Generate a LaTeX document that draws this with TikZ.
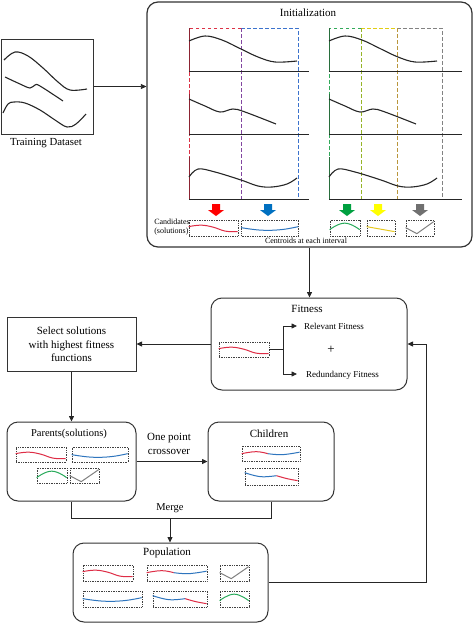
\documentclass[tikz,border=0pt]{standalone}
\usepackage{fontspec}
\setmainfont{Liberation Serif}
\usetikzlibrary{arrows.meta}
\definecolor{cred}{RGB}{222,45,70}
\definecolor{cblue}{RGB}{46,117,190}
\definecolor{cgreen}{RGB}{40,170,90}
\definecolor{cyellow}{RGB}{230,200,30}
\definecolor{cgray}{RGB}{128,128,128}
\definecolor{ared}{RGB}{255,0,0}
\definecolor{ablue}{RGB}{0,112,192}
\definecolor{agreen}{RGB}{0,160,64}
\definecolor{ayellow}{RGB}{255,255,0}
\definecolor{agray}{RGB}{112,112,112}
\definecolor{dred}{RGB}{220,50,70}
\definecolor{dblue}{RGB}{60,115,205}
\definecolor{dpurple}{RGB}{130,70,160}
\definecolor{dgreen}{RGB}{50,170,90}
\definecolor{dyellow}{RGB}{225,205,20}
\definecolor{dygreen}{RGB}{150,180,40}
\definecolor{dolive}{RGB}{185,150,60}
\definecolor{dgray}{RGB}{130,130,130}
\definecolor{axred}{RGB}{140,35,50}
\definecolor{axgreen}{RGB}{40,110,60}
\newcommand\incurve[3]{\begin{scope}[shift={(#1.north west)},xscale=#2]#3\end{scope}}
\newcommand\cRed{\draw[cred,line width=1pt] plot[smooth,tension=0.7] coordinates {(0,7)(0.25,5.5)(0.5,7.5)(0.75,11.5)(1,12)};}
\newcommand\cBlue{\draw[cblue,line width=1pt] plot[smooth,tension=0.7] coordinates {(0,8)(0.35,10.5)(0.7,10)(1,7)};}
\newcommand\cGreen{\draw[cgreen,line width=1pt] plot[smooth,tension=0.8] coordinates {(0,10)(0.5,3.5)(1,10)};}
\newcommand\cYellow{\draw[cyellow,line width=1pt] (0,7) -- (1,12);}
\newcommand\cGray{\draw[cgray,line width=1pt] (0,8) -- (0.4,14) -- (1,2);}
\newcommand\cRedBlue{\draw[cred,line width=1pt] plot[smooth,tension=0.7] coordinates {(0,8)(0.25,6)(0.45,8)};
 \draw[cblue,line width=1pt] plot[smooth,tension=0.7] coordinates {(0.45,8)(0.7,9)(1,6.5)};}
\newcommand\cBlueRed{\draw[cblue,line width=1pt] plot[smooth,tension=0.7] coordinates {(0,5)(0.3,9)(0.6,8)};
 \draw[cred,line width=1pt] plot[smooth,tension=0.7] coordinates {(0.6,8)(0.8,11)(1,13)};}
\newcommand\blkarr[3]{\fill[#1] (#2-4,#3) -- (#2+4,#3) -- (#2+4,#3+6) -- (#2+8,#3+6) -- (#2,#3+12) -- (#2-8,#3+6) -- (#2-4,#3+6) -- cycle;}
\begin{document}
\begin{tikzpicture}[x=1pt,y=-1pt,
  box/.style={draw=black!80,line width=1pt,inner sep=0pt},
  rbox/.style={box,rounded corners=11pt},
  cand/.style={draw=black!75,densely dotted,line width=0.7pt,inner sep=0pt,fill=white},
  conn/.style={line width=0.8pt,draw=black!85},
  arr/.style={conn,-{Triangle[length=5.5pt,width=5pt]}},
  curve/.style={line width=1.1pt,black!85},
  axis/.style={line width=1pt,black!85},
  lbl/.style={inner sep=0pt,font=\fontsize{11}{13}\selectfont}]
\useasboundingbox (0,0) rectangle (474,624);

% ---------- main boxes ----------
\node[box,minimum width=92pt,minimum height=95pt] (train) at (47,86.5) {};
\node[rbox,line width=1.2pt,minimum width=325pt,minimum height=245pt] (init) at (309.5,124.5) {};
\node[rbox,minimum width=196pt,minimum height=92pt] (fit) at (309,344) {};
\node[box,minimum width=129pt,minimum height=54pt] (sel) at (71.5,344) {};
\node[rbox,minimum width=129pt,minimum height=79pt] (par) at (71.5,461.5) {};
\node[rbox,minimum width=126pt,minimum height=79pt] (chi) at (271,461.5) {};
\node[rbox,minimum width=195pt,minimum height=79pt] (pop) at (170.5,582.5) {};

% ---------- training dataset ----------
\draw[curve] plot[smooth,tension=0.6] coordinates {(4,60)(15,52)(28,56)(43,68)(58,82)(70,90)(87,89)};
\draw[curve] plot[smooth,tension=0.6] coordinates {(5,77)(20,84)(30,88)(35,85)(40,86)(63,101)};
\draw[curve] plot[smooth,tension=0.6] coordinates {(3,113)(8,104)(14,102)(25,103)(40,110)(55,120)(67,127)(76,124)(86,114)};
\node[lbl,font=\fontsize{10.8}{12}\selectfont] (trainlbl) at (46,143) {Training Dataset};

% ---------- initialization ----------
\node[lbl] (initlbl) at (308,13) {Initialization};
\begin{scope}[line width=0.9pt,dash pattern=on 3.5pt off 2.5pt]
\draw[dred] (241,28) -- (189,28) -- (189,199) -- (241,199);
\draw[dblue] (241,28) -- (298,28) -- (298,199) -- (241,199);
\draw[dpurple] (241,28) -- (241,199);
\draw[dgreen] (361,28) -- (329,28) -- (329,199) -- (361,199);
\draw[dyellow] (361,28) -- (397,28) (361,199) -- (397,199);
\draw[dygreen] (361,28) -- (361,199);
\draw[dgray] (397,28) -- (442,28) -- (442,199) -- (397,199);
\draw[dolive] (397,28) -- (397,199);
\end{scope}
\foreach \dx/\xe/\axc in {0/309/axred,140/322/axgreen}{
  \begin{scope}[xshift=\dx]
  \foreach \ya/\yb in {28/71,94/134,157/199}{
    \draw[axis] (189,\yb) -- (\xe,\yb);
    \draw[axis,\axc] (189,\ya) -- (189,\yb);
  }
  \draw[curve] plot[smooth,tension=0.6] coordinates {(189,41)(205,36)(222,40)(241,49)(258,57)(275,62)(297,61)};
  \draw[curve] plot[smooth,tension=0.6] coordinates {(189,99)(205,106)(220,112)(233,109)(245,112)(276,124)};
  \draw[curve] plot[smooth,tension=0.6] coordinates {(189,177)(198,169)(215,172)(241,180)(258,186)(272,187)(287,184)(297,178)};
  \end{scope}
}
\blkarr{ared}{216}{204}
\blkarr{ablue}{268}{204}
\blkarr{agreen}{347}{204}
\blkarr{ayellow}{378}{204}
\blkarr{agray}{420}{204}
\node[cand,minimum width=49pt,minimum height=16pt] (c1) at (213.5,228) {};
\node[cand,minimum width=57pt,minimum height=16pt] (c2) at (270,228) {};
\node[cand,minimum width=30pt,minimum height=16pt] (c3) at (345,228) {};
\node[cand,minimum width=28pt,minimum height=16pt] (c4) at (381,228) {};
\node[cand,minimum width=28pt,minimum height=16pt] (c5) at (420,228) {};
\incurve{c1}{49}{\cRed}
\incurve{c2}{57}{\cBlue}
\incurve{c3}{30}{\cGreen}
\incurve{c4}{28}{\cYellow}
\incurve{c5}{28}{\cGray}
\node[inner sep=0pt,anchor=east,align=left,font=\fontsize{8}{9}\selectfont] (candlbl) at (190,227) {Candidates\\(solutions)};
\node[inner sep=0pt,font=\fontsize{8}{9}\selectfont] (centlbl) at (306,241) {Centroids at each interval};

% ---------- fitness ----------
\node[lbl] (fitlbl) at (307,309) {Fitness};
\node[cand,minimum width=50pt,minimum height=15pt] (fc) at (244,349.5) {};
\incurve{fc}{50}{\cRed}
\coordinate (br) at (283,349);
\coordinate (brt) at (297,326);
\coordinate (brb) at (297,374);
\draw[conn] (fc.east |- br) -- (br);
\draw[arr] (br) |- (brt);
\draw[arr] (br) |- (brb);
\node[inner sep=0pt,anchor=west,font=\fontsize{9}{10}\selectfont] (rel) at (304,326) {Relevant Fitness};
\node[inner sep=0pt,anchor=west,font=\fontsize{9}{10}\selectfont] (red) at (306,375) {Redundancy Fitness};
\node[inner sep=0pt,font=\fontsize{13}{14}\selectfont] (plus) at (331,350) {+};

% ---------- select ----------
\node[lbl,align=center,font=\fontsize{11}{13.5}\selectfont] (sellbl) at (71.5,344.5) {Select solutions\\with highest fitness\\functions};

% ---------- parents ----------
\node[lbl,font=\fontsize{10.5}{12}\selectfont] (parlbl) at (69,433.5) {Parents(solutions)};
\node[cand,minimum width=50pt,minimum height=15pt] (p1) at (41,454.5) {};
\node[cand,minimum width=56pt,minimum height=15pt] (p2) at (100,454.5) {};
\node[cand,minimum width=30pt,minimum height=15pt] (p3) at (52,475.5) {};
\node[cand,minimum width=29pt,minimum height=15pt] (p4) at (84.5,475.5) {};
\incurve{p1}{50}{\cRed}
\incurve{p2}{56}{\cBlue}
\incurve{p3}{30}{\cGreen}
\incurve{p4}{29}{\cGray}

% ---------- children ----------
\node[lbl] (chilbl) at (269,433.5) {Children};
\node[cand,minimum width=58pt,minimum height=15pt] (k1) at (271,453.5) {};
\node[cand,minimum width=53pt,minimum height=17pt] (k2) at (271.5,476.5) {};
\incurve{k1}{58}{\cRedBlue}
\incurve{k2}{53}{\cBlueRed}
\node[lbl,align=center,font=\fontsize{11}{14}\selectfont] (xlbl) at (169,444) {One point\\crossover};

% ---------- population ----------
\node[lbl] (poplbl) at (167,553) {Population};
\node[cand,minimum width=50pt,minimum height=16pt] (q1) at (108,573) {};
\node[cand,minimum width=60pt,minimum height=16pt] (q2) at (177,573) {};
\node[cand,minimum width=29pt,minimum height=16pt] (q3) at (234.5,573) {};
\node[cand,minimum width=59pt,minimum height=16pt] (q4) at (112.5,599) {};
\node[cand,minimum width=54pt,minimum height=16pt] (q5) at (180,599) {};
\node[cand,minimum width=29pt,minimum height=16pt] (q6) at (234.5,599) {};
\incurve{q1}{50}{\cRed}
\incurve{q2}{60}{\cRedBlue}
\incurve{q3}{29}{\cGray}
\incurve{q4}{59}{\cBlue}
\incurve{q5}{54}{\cBlueRed}
\incurve{q6}{29}{\cGreen}

% ---------- connectors ----------
\draw[arr] (train.east) -- (train.east -| init.west);
\draw[arr] (init.south) -- (init.south |- fit.north);
\draw[arr] (fit.west) -- (sel.east);
\draw[arr] (sel.south) -- (par.north);
\draw[arr] (par.east |- chi.west) -- (chi.west);
\coordinate (mj) at (170,518);
\draw[conn] (par.south) |- (mj);
\draw[conn] (chi.south) |- (mj);
\node[lbl,font=\fontsize{10.5}{12}\selectfont] (mlbl) at (170,508) {Merge};
\draw[arr] (mj) -- (mj |- pop.north);
\coordinate (fb) at (426,582.5);
\draw[arr] (pop.east) -- (fb) |- (fit.east);
\end{tikzpicture}
\end{document}
